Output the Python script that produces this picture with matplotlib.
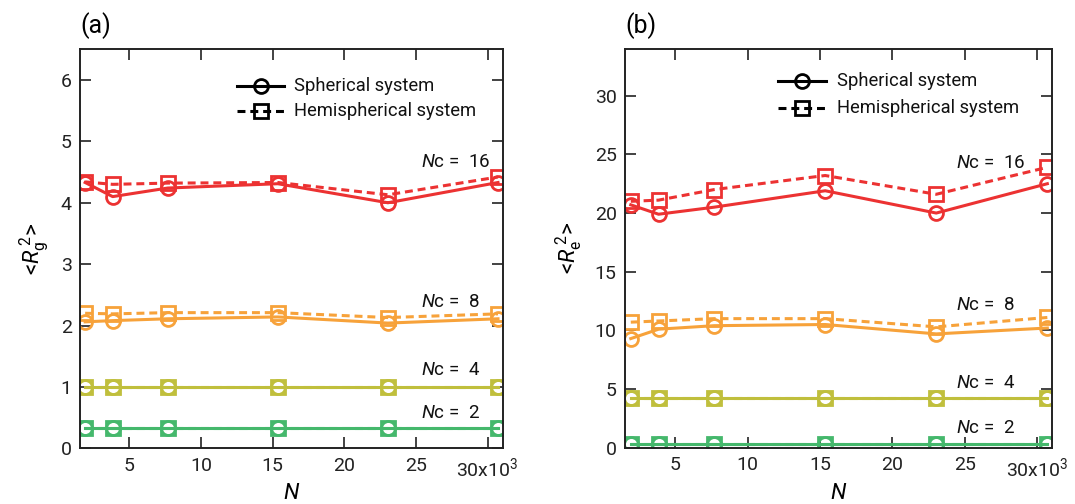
import matplotlib
matplotlib.use("Agg")
import matplotlib.pyplot as plt

plt.rcParams['font.family'] = ['Roboto', 'DejaVu Sans']
plt.rcParams['mathtext.fontset'] = 'custom'
plt.rcParams['mathtext.rm'] = 'Roboto'
plt.rcParams['mathtext.it'] = 'Roboto:italic'

# chain length N
N = [1920, 3840, 7680, 15360, 23040, 30720]

# (a) <Rg^2>
rg_sph = {
    16: [4.33, 4.10, 4.24, 4.31, 4.00, 4.33],
    8:  [2.06, 2.08, 2.11, 2.14, 2.04, 2.11],
    4:  [1.00, 1.00, 1.00, 1.00, 1.00, 1.00],
    2:  [0.33, 0.33, 0.33, 0.33, 0.33, 0.33],
}
rg_hemi = {
    16: [4.34, 4.30, 4.32, 4.33, 4.13, 4.42],
    8:  [2.20, 2.19, 2.21, 2.21, 2.13, 2.19],
    4:  [1.00, 1.00, 1.00, 1.00, 1.00, 1.00],
    2:  [0.33, 0.33, 0.33, 0.33, 0.33, 0.33],
}

# (b) <Re^2>
re_sph = {
    16: [20.7, 19.9, 20.5, 21.9, 20.0, 22.5],
    8:  [9.3, 10.1, 10.4, 10.5, 9.7, 10.2],
    4:  [4.2, 4.2, 4.2, 4.2, 4.2, 4.2],
    2:  [0.3, 0.3, 0.3, 0.3, 0.3, 0.3],
}
re_hemi = {
    16: [21.0, 21.1, 22.0, 23.2, 21.6, 23.9],
    8:  [10.7, 10.8, 11.0, 11.0, 10.3, 11.1],
    4:  [4.25, 4.25, 4.25, 4.25, 4.25, 4.25],
    2:  [0.35, 0.35, 0.35, 0.35, 0.35, 0.35],
}

colors = {16: '#ec3232', 8: '#f7a23a', 4: '#c0bf3c', 2: '#45b86c'}

xticks = [5000, 10000, 15000, 20000, 25000, 30000]
xticklabels = ['5', '10', '15', '20', '25', '30x10$^{3}$']
legend_labels = ['Spherical system', 'Hemispherical system']

DASH = (0, (2.6, 1.6))

fig = plt.figure(figsize=(10.75, 5.04), dpi=100)
ax_a = fig.add_axes([0.0744, 0.1105, 0.3938, 0.7917])
ax_b = fig.add_axes([0.5814, 0.1117, 0.3969, 0.7915])


def draw(ax, sph, hemi, xlim, ylim, yticks, ylabel, label_pos, label_x, panel, leg):
    for nc in [16, 8, 4, 2]:
        c = colors[nc]
        ax.plot(N, hemi[nc], ls=DASH, lw=2.2, color=c, marker='s',
                ms=10, mfc='none', mec=c, mew=2)
        ax.plot(N, sph[nc], ls='-', lw=2.2, color=c, marker='o',
                ms=10, mfc='none', mec=c, mew=2)
        ax.text(label_x, label_pos[nc], f'$N$c =  {nc}', transform=ax.get_yaxis_transform(),
                ha='left', va='center', fontsize=13.5, color='#111111')

    ax.set_xlim(*xlim)
    ax.set_ylim(*ylim)
    ax.set_xticks(xticks)
    ax.set_xticklabels(xticklabels)
    ax.set_yticks(yticks)
    ax.tick_params(direction='in', length=8, width=1.2, top=True, right=True,
                   labelsize=14, pad=6, colors='#222222')
    for s in ax.spines.values():
        s.set_linewidth(1.4)
        s.set_color('#222222')
    ax.set_xlabel('$N$', fontsize=16, labelpad=2)
    ax.set_ylabel(ylabel, fontsize=16, labelpad=7)
    ax.text(0.0, 1.025, panel, transform=ax.transAxes, ha='left', va='bottom', fontsize=18)

    # legend drawn by hand in axes coordinates
    x0, x1, xt, y1, y2 = leg
    xm = (x0 + x1) / 2
    ax.plot([x0, xm, x1], [y1, y1, y1], transform=ax.transAxes, color='black', lw=2.2,
            marker='o', ms=10, mfc='none', mew=2, markevery=[1], clip_on=False)
    ax.plot([x0, xm, x1], [y2, y2, y2], transform=ax.transAxes, color='black', lw=2.2,
            ls=DASH, marker='s', ms=10, mfc='none', mew=2, markevery=[1], clip_on=False)
    ax.text(xt, y1, legend_labels[0], transform=ax.transAxes, ha='left', va='center',
            fontsize=13.2, color='#111111')
    ax.text(xt, y2, legend_labels[1], transform=ax.transAxes, ha='left', va='center',
            fontsize=13.2, color='#111111')


draw(ax_a, rg_sph, rg_hemi, (1560, 31090), (0, 6.5), [0, 1, 2, 3, 4, 5, 6],
     r'<$R_{\mathrm{g}}^{\;2}$>', {16: 4.66, 8: 2.38, 4: 1.27, 2: 0.57}, 0.805, '(a)',
     (0.372, 0.481, 0.505, 0.909, 0.845))
draw(ax_b, re_sph, re_hemi, (1520, 31020), (0, 34), [0, 5, 10, 15, 20, 25, 30],
     r'<$R_{\mathrm{e}}^{\;2}$>', {16: 24.25, 8: 12.2, 4: 5.5, 2: 1.7}, 0.776, '(b)',
     (0.358, 0.470, 0.496, 0.920, 0.852))

fig.savefig('out.png', dpi=100)
